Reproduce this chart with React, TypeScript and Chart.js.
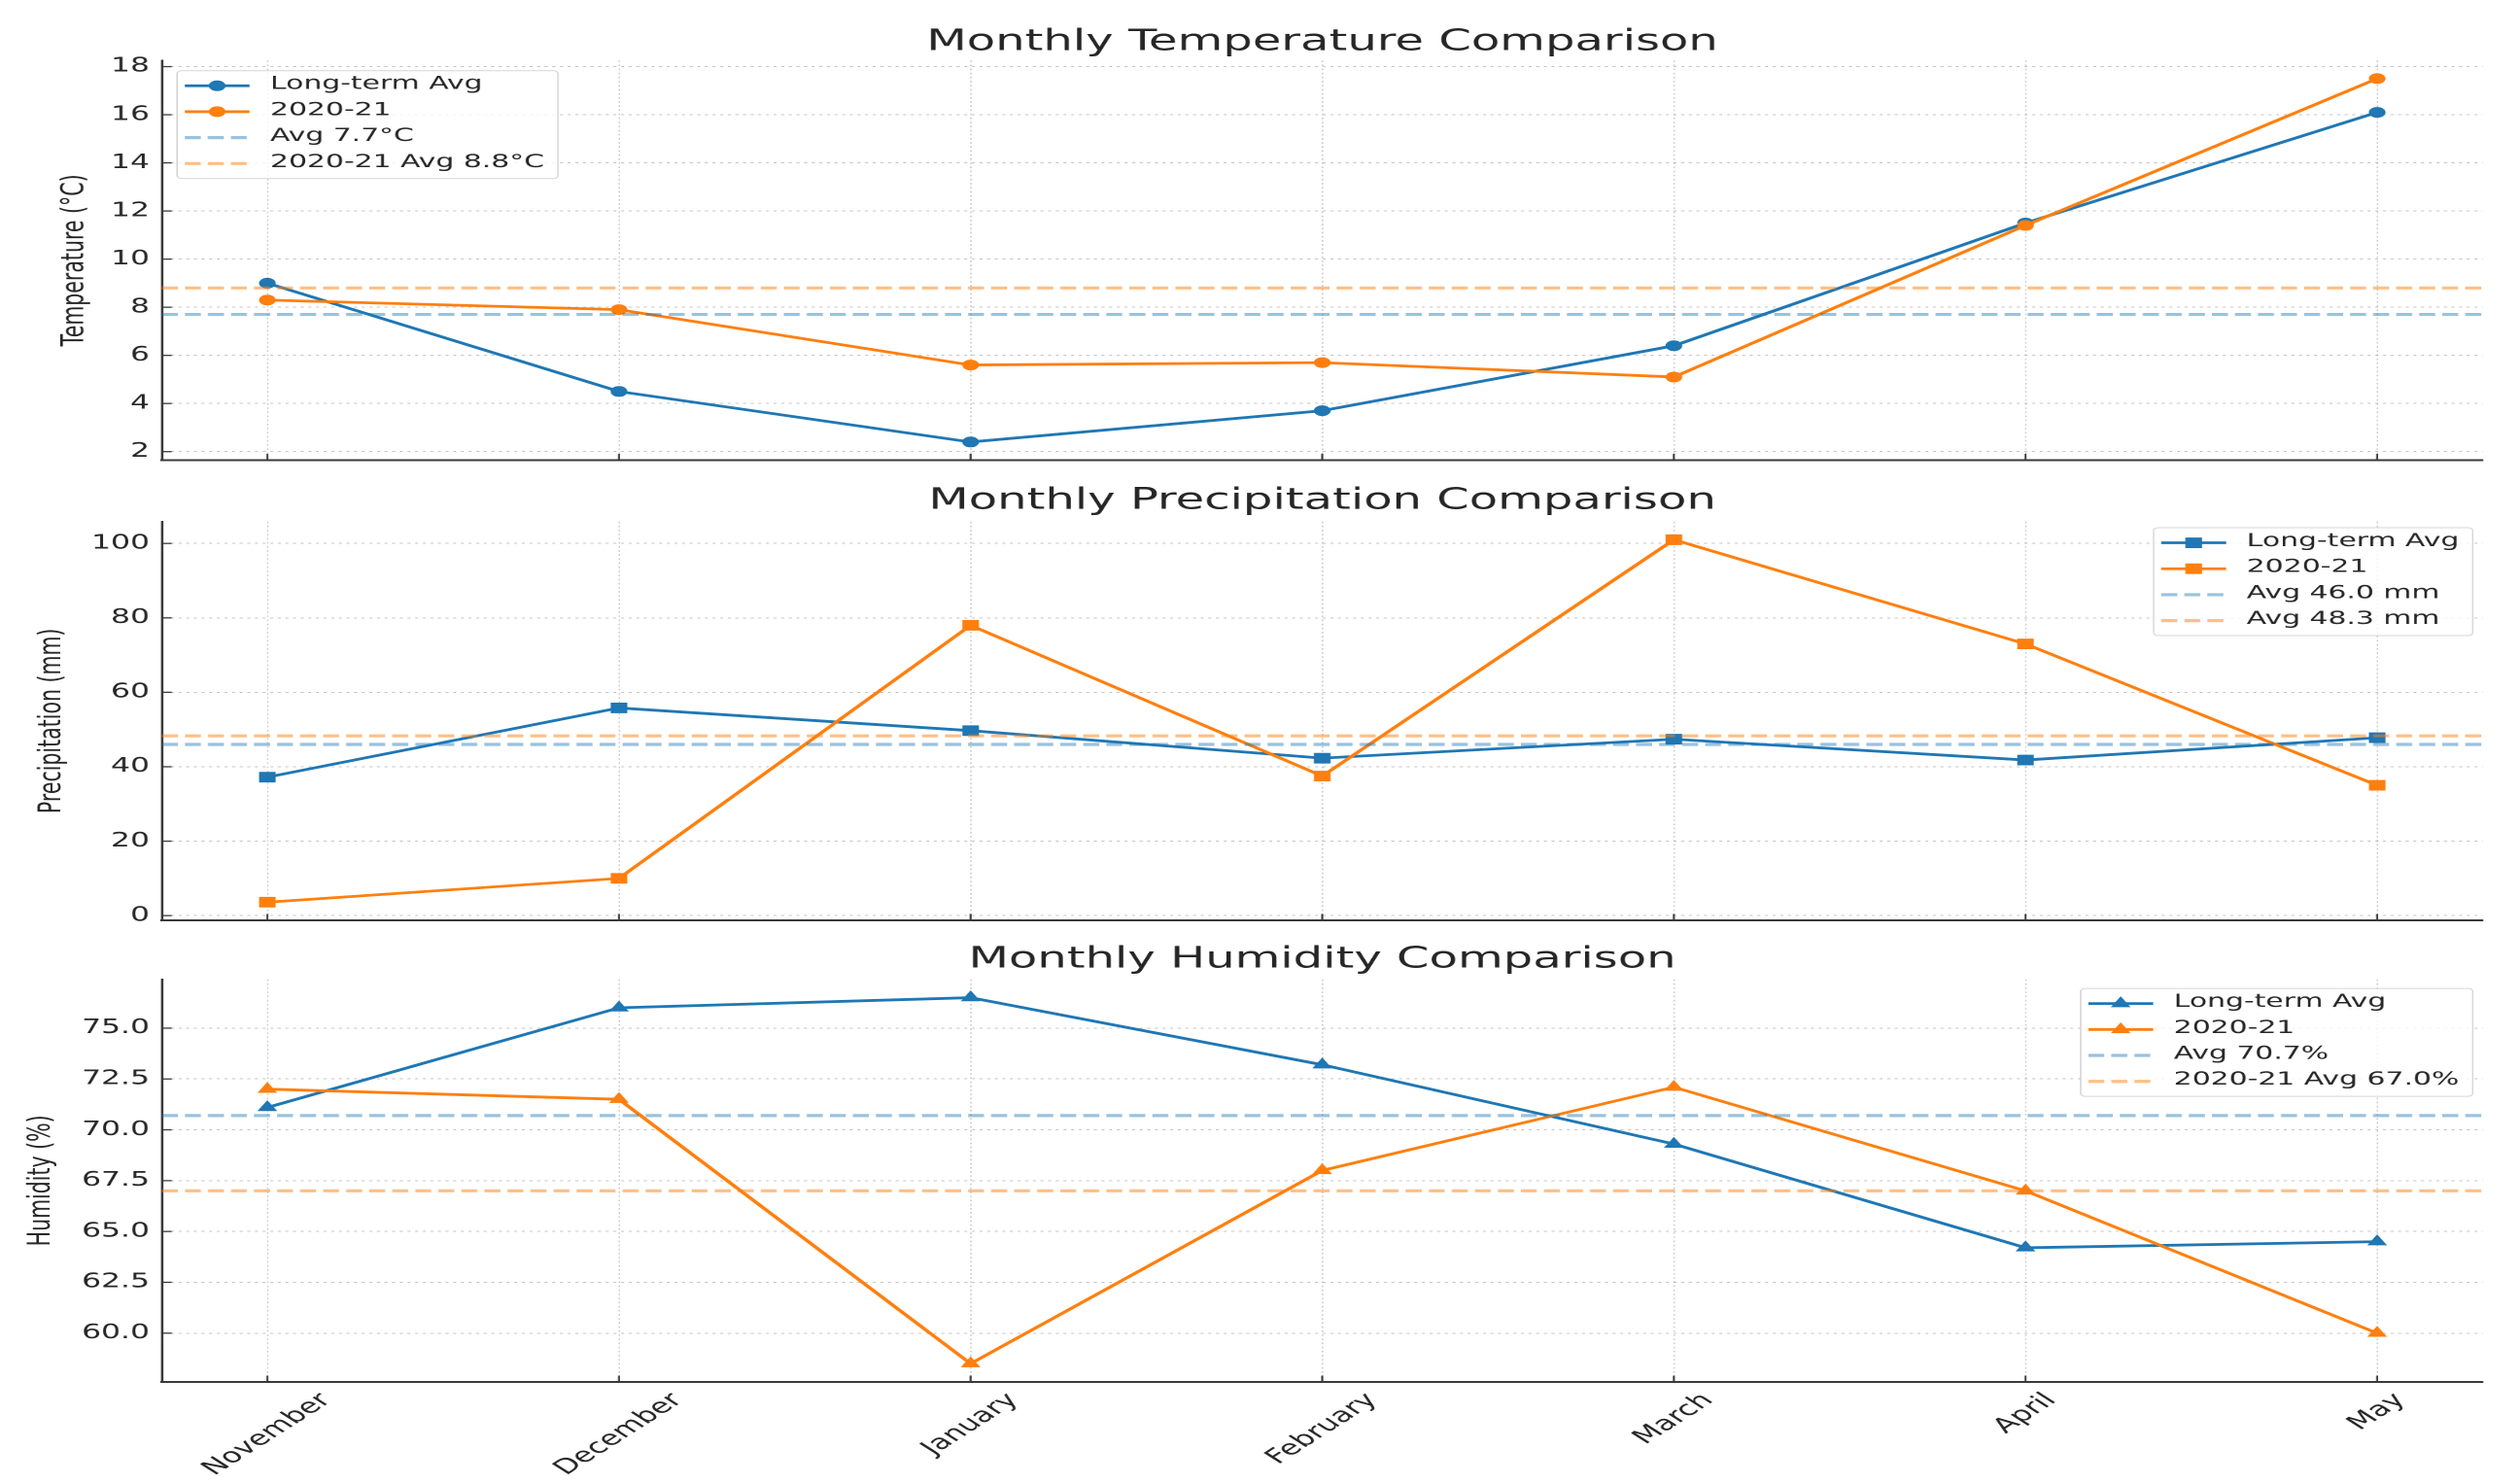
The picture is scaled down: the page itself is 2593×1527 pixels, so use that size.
import React, { useEffect, useRef } from 'react';
import { Chart, registerables } from 'chart.js';

Chart.register(...registerables);

// ---------------- data ----------------
const months = ['November', 'December', 'January', 'February', 'March', 'April', 'May'];

const tempLongTerm = [9.0, 4.5, 2.4, 3.7, 6.4, 11.5, 16.1];
const temp2021 = [8.3, 7.9, 5.6, 5.7, 5.1, 11.4, 17.5];
const tempAvgLongTerm = 7.7;
const tempAvg2021 = 8.8;
const tempTicks = [2, 4, 6, 8, 10, 12, 14, 16, 18];

const precipLongTerm = [37.2, 55.8, 49.7, 42.3, 47.4, 41.8, 47.8];
const precip2021 = [3.6, 10.0, 78.0, 37.5, 101.0, 73.0, 35.0];
const precipAvgLongTerm = 46.0;
const precipAvg2021 = 48.3;
const precipTicks = [0, 20, 40, 60, 80, 100];

const humidLongTerm = [71.1, 76.0, 76.5, 73.2, 69.3, 64.2, 64.5];
const humid2021 = [72.0, 71.5, 58.5, 68.0, 72.1, 67.0, 60.0];
const humidAvgLongTerm = 70.7;
const humidAvg2021 = 67.0;
const humidTicks = [60, 62.5, 65, 67.5, 70, 72.5, 75];

// ---------------- style / layout ----------------
const FONT = '"DejaVu Sans", "Liberation Sans", sans-serif';
const BLUE = '#1f77b4';
const ORANGE = '#ff7f0e';
const BLUE_AVG = 'rgba(31,119,180,0.45)';
const ORANGE_AVG = 'rgba(255,127,14,0.5)';
const TEXT = '#262626';
const AXIS = '#3a3a3a';
const GRID = 'rgba(150,150,150,0.55)';

const PAGE_W = 2593;
const W = 1652; // logical width, stretched horizontally to PAGE_W
const PLOT_LEFT = 106.1;
const PLOT_RIGHT_PAD = 24.5;
const X_MIN = -0.3;
const X_MAX = 6.3;
const TICK_FONT = 20;
const XLABEL_FONT = 21;
const LEGEND_FONT = 19;
const LINE_W = 2.8;
const AVG_W = 3.2;
const AVG_DASH = [10.5, 4.6];

type Marker = 'circle' | 'rect' | 'triangle';

type PanelSpec = {
  title: string;
  yLabel: string;
  longTerm: number[];
  current: number[];
  avgLongTerm: number;
  avgCurrent: number;
  avgLabelLT: string;
  avgLabelCur: string;
  ticks: number[];
  decimals: number;
  marker: Marker;
  radius: number;
  top: number;
  height: number;
  titlePadTop: number;
  titlePadBottom: number;
  xAxisH: number;
  yTitlePad: number;
  legendSide: 'left' | 'right';
  legendPadX: number;
  legendPadY: number;
  xLabels: boolean;
};

const panels: PanelSpec[] = [
  {
    title: 'Monthly Temperature Comparison',
    yLabel: 'Temperature (°C)',
    longTerm: tempLongTerm,
    current: temp2021,
    avgLongTerm: tempAvgLongTerm,
    avgCurrent: tempAvg2021,
    avgLabelLT: `Avg ${tempAvgLongTerm.toFixed(1)}°C`,
    avgLabelCur: `2020-21 Avg ${tempAvg2021.toFixed(1)}°C`,
    ticks: tempTicks,
    decimals: 0,
    marker: 'circle',
    radius: 5,
    top: 0,
    height: 490,
    titlePadTop: 25,
    titlePadBottom: 0.5,
    xAxisH: 16.5,
    yTitlePad: 36.7,
    legendSide: 'left',
    legendPadX: 10,
    legendPadY: 10.5,
    xLabels: false,
  },
  {
    title: 'Monthly Precipitation Comparison',
    yLabel: 'Precipitation (mm)',
    longTerm: precipLongTerm,
    current: precip2021,
    avgLongTerm: precipAvgLongTerm,
    avgCurrent: precipAvg2021,
    avgLabelLT: `Avg ${precipAvgLongTerm.toFixed(1)} mm`,
    avgLabelCur: `Avg ${precipAvg2021.toFixed(1)} mm`,
    ticks: precipTicks,
    decimals: 0,
    marker: 'rect',
    radius: 7,
    top: 490,
    height: 470,
    titlePadTop: 7,
    titlePadBottom: 3,
    xAxisH: 13,
    yTitlePad: 21.9,
    legendSide: 'right',
    legendPadX: 6.5,
    legendPadY: 6.3,
    xLabels: false,
  },
  {
    title: 'Monthly Humidity Comparison',
    yLabel: 'Humidity (%)',
    longTerm: humidLongTerm,
    current: humid2021,
    avgLongTerm: humidAvgLongTerm,
    avgCurrent: humidAvg2021,
    avgLabelLT: `Avg ${humidAvgLongTerm.toFixed(1)}%`,
    avgLabelCur: `2020-21 Avg ${humidAvg2021.toFixed(1)}%`,
    ticks: humidTicks,
    decimals: 1,
    marker: 'triangle',
    radius: 6.5,
    top: 960,
    height: 567,
    titlePadTop: 9,
    titlePadBottom: 2,
    xAxisH: 105,
    yTitlePad: 15.1,
    legendSide: 'right',
    legendPadX: 6.5,
    legendPadY: 9.4,
    xLabels: true,
  },
];

function drawMarker(ctx: CanvasRenderingContext2D, shape: Marker, r: number, x: number, y: number, color: string) {
  ctx.save();
  ctx.fillStyle = color;
  ctx.strokeStyle = color;
  ctx.lineWidth = 1;
  ctx.setLineDash([]);
  ctx.beginPath();
  if (shape === 'circle') {
    ctx.arc(x, y, r, 0, Math.PI * 2);
  } else if (shape === 'rect') {
    const h = r * Math.SQRT1_2;
    ctx.rect(x - h, y - h, 2 * h, 2 * h);
  } else {
    for (let k = 0; k < 3; k++) {
      const a = (k * 2 * Math.PI) / 3;
      const px = x + Math.sin(a) * r;
      const py = y - Math.cos(a) * r;
      if (k === 0) ctx.moveTo(px, py);
      else ctx.lineTo(px, py);
    }
    ctx.closePath();
  }
  ctx.fill();
  ctx.stroke();
  ctx.restore();
}

function makeDecor(spec: PanelSpec) {
  return {
    id: 'decor',
    afterDraw(chart: any) {
      const ctx: CanvasRenderingContext2D = chart.ctx;
      const area = chart.chartArea;
      const xs = chart.scales.x;
      const ys = chart.scales.y;
      ctx.save();
      // inward tick marks
      ctx.strokeStyle = AXIS;
      ctx.lineWidth = 1.3;
      ctx.setLineDash([]);
      xs.ticks.forEach((t: any) => {
        const px = xs.getPixelForValue(t.value);
        ctx.beginPath();
        ctx.moveTo(px, area.bottom);
        ctx.lineTo(px, area.bottom - 6.5);
        ctx.stroke();
      });
      ys.ticks.forEach((t: any) => {
        const py = ys.getPixelForValue(t.value);
        ctx.beginPath();
        ctx.moveTo(area.left, py);
        ctx.lineTo(area.left + 6.5, py);
        ctx.stroke();
      });

      // rotated month labels (centered like matplotlib)
      if (spec.xLabels) {
        ctx.font = `${XLABEL_FONT}px ${FONT}`;
        ctx.fillStyle = TEXT;
        ctx.textAlign = 'center';
        ctx.textBaseline = 'middle';
        xs.ticks.forEach((t: any) => {
          const label = months[t.value];
          const w = ctx.measureText(label).width;
          const h = XLABEL_FONT * 1.164;
          const bh = (w + h) * Math.SQRT1_2;
          const px = xs.getPixelForValue(t.value);
          const cy = area.bottom + 7 + bh / 2;
          ctx.save();
          ctx.translate(px, cy);
          ctx.rotate(-Math.PI / 4);
          ctx.fillText(label, 0, 0);
          ctx.restore();
        });
      }

      // legend
      const items = chart.data.datasets;
      ctx.font = `${LEGEND_FONT}px ${FONT}`;
      const textW = Math.max(...items.map((d: any) => ctx.measureText(d.label).width));
      const boxW = 61 + textW + 9;
      const rowH = 26.7;
      const boxH = 111;
      const x0 = spec.legendSide === 'left' ? area.left + spec.legendPadX : area.right - spec.legendPadX - boxW;
      const y0 = area.top + spec.legendPadY;
      ctx.beginPath();
      if ((ctx as any).roundRect) (ctx as any).roundRect(x0, y0, boxW, boxH, 3);
      else ctx.rect(x0, y0, boxW, boxH);
      ctx.fillStyle = 'rgba(255,255,255,0.8)';
      ctx.fill();
      ctx.strokeStyle = 'rgba(204,204,204,0.8)';
      ctx.lineWidth = 1;
      ctx.stroke();
      items.forEach((d: any, i: number) => {
        const cy = y0 + 15.5 + i * rowH;
        ctx.save();
        ctx.strokeStyle = d.borderColor;
        ctx.lineWidth = d.borderWidth;
        ctx.setLineDash(d.borderDash || []);
        ctx.beginPath();
        ctx.moveTo(x0 + 5, cy);
        ctx.lineTo(x0 + 47.5, cy);
        ctx.stroke();
        ctx.restore();
        if (d.pointRadius > 0) drawMarker(ctx, spec.marker, spec.radius, x0 + 26.25, cy, d.borderColor);
        ctx.fillStyle = TEXT;
        ctx.textAlign = 'left';
        ctx.textBaseline = 'middle';
        ctx.fillText(d.label, x0 + 61, cy - 1.5);
      });
      ctx.restore();
    },
  };
}

function buildConfig(spec: PanelSpec): any {
  const all = [...spec.longTerm, ...spec.current];
  const lo = Math.min(...all);
  const hi = Math.max(...all);
  const pad = (hi - lo) * 0.05;
  const toPts = (arr: number[]) => arr.map((v, i) => ({ x: i, y: v }));
  const hline = (v: number) => [
    { x: X_MIN, y: v },
    { x: X_MAX, y: v },
  ];
  const series = (label: string, arr: number[], color: string, order: number) => ({
    label,
    data: toPts(arr),
    borderColor: color,
    backgroundColor: color,
    borderWidth: LINE_W,
    pointStyle: spec.marker,
    pointRadius: spec.radius,
    pointBorderWidth: 1,
    pointBackgroundColor: color,
    pointBorderColor: color,
    tension: 0,
    fill: false,
    order,
  });
  const avg = (label: string, v: number, color: string, order: number) => ({
    label,
    data: hline(v),
    borderColor: color,
    backgroundColor: color,
    borderWidth: AVG_W,
    borderDash: AVG_DASH,
    pointRadius: 0,
    fill: false,
    order,
  });
  const gridCommon = {
    color: GRID,
    lineWidth: 1,
    drawTicks: false,
  };
  return {
    type: 'line',
    data: {
      datasets: [
        series('Long-term Avg', spec.longTerm, BLUE, 4),
        series('2020-21', spec.current, ORANGE, 3),
        avg(spec.avgLabelLT, spec.avgLongTerm, BLUE_AVG, 2),
        avg(spec.avgLabelCur, spec.avgCurrent, ORANGE_AVG, 1),
      ],
    },
    options: {
      animation: false,
      responsive: false,
      devicePixelRatio: 2,
      events: [],
      layout: { padding: { left: 0, right: PLOT_RIGHT_PAD, top: 0, bottom: 0 } },
      plugins: {
        legend: { display: false },
        tooltip: { enabled: false },
        title: {
          display: true,
          text: spec.title,
          fullSize: false,
          color: TEXT,
          font: { family: FONT, size: 30.6, weight: 'normal', lineHeight: 1.2 },
          padding: { top: spec.titlePadTop, bottom: spec.titlePadBottom },
        },
      },
      scales: {
        x: {
          type: 'linear',
          min: X_MIN,
          max: X_MAX,
          bounds: 'data',
          afterBuildTicks: (s: any) => {
            s.ticks = months.map((_, i) => ({ value: i }));
          },
          afterFit: (s: any) => {
            s.height = spec.xAxisH;
            s.paddingLeft = 0;
            s.paddingRight = 0;
          },
          ticks: { display: false },
          grid: { ...gridCommon, lineWidth: 0.9 },
          border: { display: true, color: AXIS, width: 2, dash: [1.6, 2.6] },
        },
        y: {
          type: 'linear',
          min: lo - pad,
          max: hi + pad,
          bounds: 'data',
          afterBuildTicks: (s: any) => {
            s.ticks = spec.ticks.map((v) => ({ value: v }));
          },
          afterFit: (s: any) => {
            s.width = PLOT_LEFT;
            s.paddingTop = 0;
            s.paddingBottom = 0;
          },
          ticks: {
            color: TEXT,
            font: { family: FONT, size: TICK_FONT },
            padding: 8,
            callback: (v: any) => Number(v).toFixed(spec.decimals),
          },
          grid: gridCommon,
          border: { display: true, color: AXIS, width: 1.6, dash: [2, 3] },
          title: {
            display: true,
            text: spec.yLabel,
            color: TEXT,
            font: { family: FONT, size: 20.5, lineHeight: 1.2 },
            padding: { top: spec.yTitlePad, bottom: 0 },
          },
        },
      },
    },
    plugins: [makeDecor(spec)],
  };
}

function Panel({ spec }: { spec: PanelSpec }) {
  const ref = useRef<HTMLCanvasElement>(null);
  useEffect(() => {
    if (!ref.current) return;
    const chart = new Chart(ref.current, buildConfig(spec));
    return () => chart.destroy();
  }, [spec]);
  return (
    <canvas
      ref={ref}
      width={W}
      height={spec.height}
      style={{
        position: 'absolute',
        left: 0,
        top: spec.top,
        width: `${PAGE_W}px`,
        height: `${spec.height}px`,
      }}
    />
  );
}

export default function App() {
  return (
    <div
      style={{
        position: 'absolute',
        left: 0,
        top: 0,
        width: PAGE_W,
        height: 1527,
        background: '#ffffff',
        overflow: 'hidden',
      }}
    >
      {panels.map((p) => (
        <Panel key={p.title} spec={p} />
      ))}
    </div>
  );
}
